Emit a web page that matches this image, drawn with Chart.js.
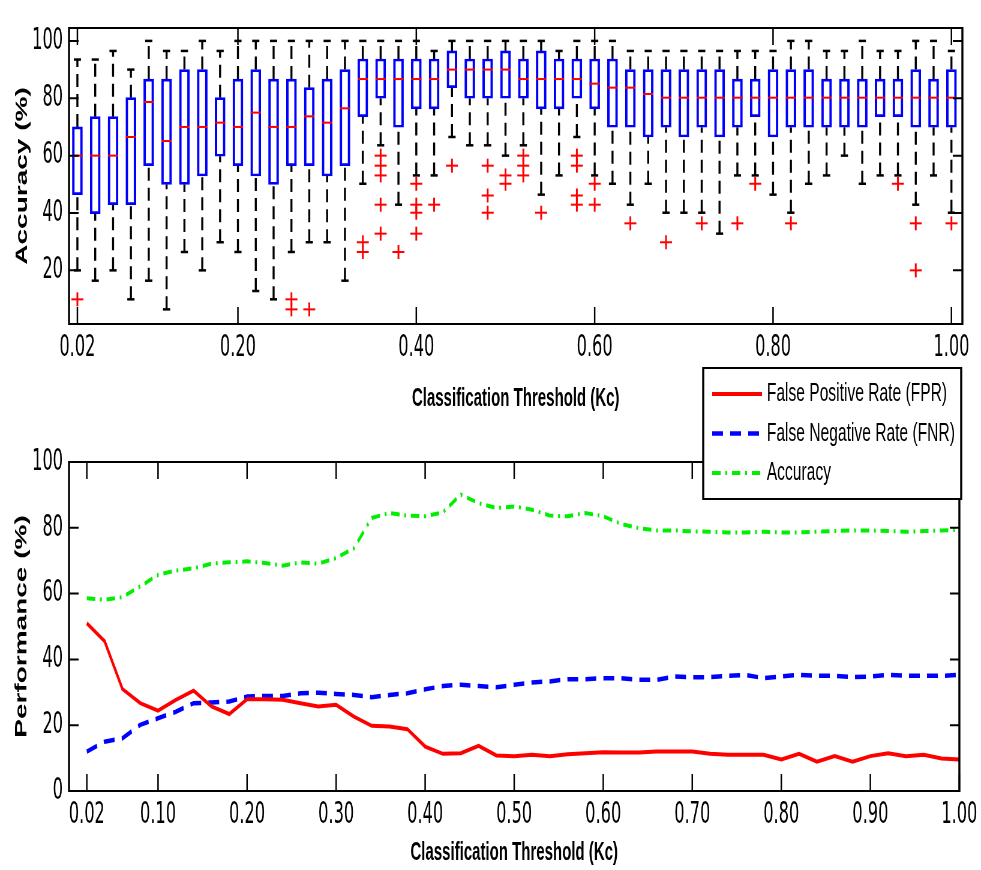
<!DOCTYPE html>
<html>
<head>
<meta charset="utf-8">
<script src="https://cdn.jsdelivr.net/npm/chart.js@4.4.1/dist/chart.umd.min.js"></script>
<style>
  html, body { margin: 0; padding: 0; background: #fff; }
  #wrap { position: relative; width: 981px; height: 870px; overflow: hidden; }
  canvas { position: absolute; left: 0; }
</style>
</head>
<body>
<div id="wrap">
  <!-- both canvases are drawn 1/0.6 wider and shrunk by css, which gives the narrow lettering -->
  <canvas id="boxChart" width="1635" height="420" style="top:0;width:981px;height:420px"></canvas>
  <canvas id="rateChart" width="1635" height="510" style="top:360px;width:981px;height:510px"></canvas>
</div>
<script>
const thresholds = [0.02, 0.04, 0.06, 0.08, 0.10, 0.12, 0.14, 0.16, 0.18, 0.20,
    0.22, 0.24, 0.26, 0.28, 0.30, 0.32, 0.34, 0.36, 0.38, 0.40,
    0.42, 0.44, 0.46, 0.48, 0.50, 0.52, 0.54, 0.56, 0.58, 0.60,
    0.62, 0.64, 0.66, 0.68, 0.70, 0.72, 0.74, 0.76, 0.78, 0.80,
    0.82, 0.84, 0.86, 0.88, 0.90, 0.92, 0.94, 0.96, 0.98, 1.00];

// box plot (accuracy per threshold)
const whiskerHigh = [93.5, 93.5, 96.5, 90, 100, 96.5, 96.5, 100, 96.5, 100,
    100, 100, 100, 100, 100, 100, 100, 100, 100, 100,
    96.5, 100, 100, 100, 100, 100, 100, 96.5, 100, 100,
    100, 96.5, 96.5, 96.5, 96.5, 96.5, 96.5, 96.5, 96.5, 96.5,
    100, 100, 96.5, 96.5, 100, 96.5, 96.5, 100, 100, 96.5];
const quartile3 = [70, 73.6, 73.6, 80.2, 86.7, 86.7, 90, 90, 80.2, 86.7,
    90, 86.7, 86.7, 83.7, 86.7, 90, 93.7, 93.7, 93.7, 93.7,
    93.7, 96.5, 93.7, 93.7, 96.5, 93.7, 96.5, 93.7, 93.7, 93.7,
    93.7, 90, 90, 90, 90, 90, 90, 86.7, 86.7, 90,
    90, 90, 86.7, 86.7, 86.7, 86.7, 86.7, 90, 86.7, 90];
const medians = [60, 60, 60, 66.5, 78.7, 65.1, 70, 70, 71.5, 70,
    75, 70, 70, 73.7, 71.5, 76.5, 86.7, 86.7, 86.7, 86.7,
    86.7, 90, 90, 90, 90, 86.7, 86.7, 86.7, 86.7, 85.1,
    83.7, 83.7, 81.5, 80.2, 80.2, 80.2, 80.2, 80.2, 80.2, 80.2,
    80.2, 80.2, 80.2, 80.2, 80.2, 80.2, 80.2, 80.2, 80.2, 80.2];
const quartile1 = [46.4, 39.8, 42.9, 42.9, 56.5, 50, 50, 52.9, 59.8, 56.5,
    52.9, 50, 56.5, 56.5, 52.9, 56.5, 73.6, 80, 69.9, 76.3,
    76.3, 83.7, 80, 80, 80, 80, 76.3, 76.3, 80, 76.3,
    69.9, 69.9, 66.5, 69.9, 66.5, 69.9, 66.5, 69.9, 73.6, 66.5,
    69.9, 69.9, 69.9, 69.9, 69.9, 73.6, 73.6, 69.9, 69.9, 69.9];
const whiskerLow = [20, 16.4, 20, 9.9, 16.4, 6.4, 26.4, 20, 29.8, 26.4,
    12.8, 9.9, 26.4, 29.8, 29.8, 16.4, 50.2, 63.6, 42.9, 53.1,
    53.1, 66.5, 63.6, 63.6, 60, 63.6, 46.4, 53.1, 66.5, 53.1,
    50.2, 42.9, 50.2, 40.1, 40.1, 40.1, 32.8, 53.1, 53.1, 46.4,
    40.1, 50.2, 53.1, 60, 50.2, 53.1, 53.1, 42.9, 53.1, 40.1];
const outliers = [[0.02, 9.9], [0.26, 9.9], [0.26, 6.4], [0.28, 6.4],
    [0.34, 29.8], [0.34, 26.4],
    [0.36, 60], [0.36, 56.5], [0.36, 53.1], [0.36, 42.9], [0.36, 32.8],
    [0.38, 26.4],
    [0.40, 50.2], [0.40, 42.9], [0.40, 40.1], [0.40, 32.8],
    [0.42, 42.9], [0.44, 56.5],
    [0.48, 56.5], [0.48, 46.1], [0.48, 40.1],
    [0.50, 53.1], [0.50, 50.2],
    [0.52, 60], [0.52, 56.5], [0.52, 53.1],
    [0.54, 40.1],
    [0.58, 60], [0.58, 56.5], [0.58, 46.1], [0.58, 42.9],
    [0.60, 50.2], [0.60, 42.9],
    [0.64, 36.4], [0.68, 29.8], [0.72, 36.4], [0.76, 36.4], [0.78, 50.2],
    [0.82, 36.4], [0.94, 50.2], [0.96, 36.4], [0.96, 20], [1.00, 36.4]];

// performance curves
const fprRate = [51, 45.5, 31, 26.7, 24.4, 27.7, 30.5, 25.7, 23.4, 27.9,
    27.9, 27.7, 26.7, 25.7, 26.2, 22.6, 19.8, 19.6, 18.8, 13.5,
    11.3, 11.5, 13.7, 10.8, 10.6, 11.0, 10.6, 11.2, 11.5, 11.8,
    11.7, 11.7, 12.0, 12.0, 12.0, 11.3, 11.0, 11.0, 11.0, 9.6,
    11.3, 8.9, 10.6, 8.9, 10.6, 11.5, 10.6, 11.0, 9.9, 9.6];
const fnrRate = [12, 15, 16, 20.1, 22.1, 24.1, 26.7, 26.9, 27.2, 28.7,
    28.9, 28.9, 29.7, 29.9, 29.5, 29.2, 28.5, 29.2, 29.7, 30.9,
    31.9, 32.3, 31.9, 31.5, 32.3, 33.0, 33.3, 34.0, 34.0, 34.3,
    34.3, 33.8, 33.8, 34.8, 34.6, 34.6, 35.0, 35.3, 34.3, 34.8,
    35.3, 35.0, 35.0, 34.6, 34.8, 35.3, 35.0, 35.0, 35.0, 35.3];
const accuracyRate = [58.6, 58.1, 58.9, 62.2, 65.7, 67.0, 67.7, 69.1, 69.5, 69.8,
    69.3, 68.5, 69.5, 69.1, 70.8, 73.8, 83.0, 84.5, 83.7, 83.5,
    84.7, 90.1, 87.5, 86.0, 86.5, 85.5, 83.7, 83.5, 84.5, 83.5,
    81.2, 79.9, 79.2, 79.2, 78.9, 78.8, 78.6, 78.6, 78.8, 78.6,
    78.6, 78.8, 79.0, 79.2, 79.2, 79.0, 78.8, 79.0, 79.2, 79.4];

const boxXTicks = [0.02, 0.2, 0.4, 0.6, 0.8, 1.0];
const rateXTicks = [0.02, 0.1, 0.2, 0.3, 0.4, 0.5, 0.6, 0.7, 0.8, 0.9, 1.0];
const boxYTicks = [20, 40, 60, 80, 100];
const rateYTicks = [0, 20, 40, 60, 80, 100];

const FAMILY = "'Liberation Sans', Arial, sans-serif";
const tickFont = { family: "'Liberation Sans Narrow', 'Arial Narrow', 'DejaVu Sans Condensed', 'Liberation Sans', sans-serif", size: 30 };
Chart.defaults.color = '#000';

// matlab style frame with inward ticks on all four sides
const frameTicks = {
    id: 'frameTicks',
    afterDatasetsDraw(chart) {
        const { ctx, chartArea: a, scales } = chart;
        ctx.save();
        ctx.strokeStyle = '#000';
        ctx.lineWidth = 2.5;
        ctx.beginPath();
        scales.x.ticks.forEach(t => {
            const px = scales.x.getPixelForValue(t.value);
            ctx.moveTo(px, a.bottom); ctx.lineTo(px, a.bottom - 17);
            ctx.moveTo(px, a.top); ctx.lineTo(px, a.top + 17);
        });
        ctx.stroke();
        ctx.lineWidth = 2;
        ctx.beginPath();
        scales.y.ticks.forEach(t => {
            const py = scales.y.getPixelForValue(t.value);
            ctx.moveTo(a.left, py); ctx.lineTo(a.left + 16, py);
            ctx.moveTo(a.right, py); ctx.lineTo(a.right - 16, py);
        });
        ctx.moveTo(a.left, a.top); ctx.lineTo(a.right, a.top);
        ctx.moveTo(a.left, a.bottom); ctx.lineTo(a.right, a.bottom);
        ctx.stroke();
        ctx.lineWidth = 3.4;
        ctx.beginPath();
        ctx.moveTo(a.left, a.top - 1); ctx.lineTo(a.left, a.bottom + 1);
        ctx.moveTo(a.right, a.top - 1); ctx.lineTo(a.right, a.bottom + 1);
        ctx.stroke();
        ctx.restore();
    }
};

// legend box that sits across the top edge of the lower plot
const boxLegend = {
    id: 'boxLegend',
    afterDraw(chart, args, opts) {
        const { ctx, chartArea: a } = chart;
        const right = a.right + 3;
        ctx.save();
        ctx.fillStyle = '#fff';
        ctx.fillRect(opts.left, opts.top, right - opts.left, opts.bottom - opts.top);
        ctx.strokeStyle = '#000';
        ctx.lineWidth = 2;
        ctx.beginPath();
        ctx.moveTo(opts.left, opts.top); ctx.lineTo(right, opts.top);
        ctx.moveTo(opts.left, opts.bottom); ctx.lineTo(right, opts.bottom);
        ctx.stroke();
        ctx.lineWidth = 3.4;
        ctx.beginPath();
        ctx.moveTo(opts.left, opts.top - 1); ctx.lineTo(opts.left, opts.bottom + 1);
        ctx.moveTo(right, opts.top - 1); ctx.lineTo(right, opts.bottom + 1);
        ctx.stroke();

        ctx.font = `26px ${FAMILY}`;
        ctx.textBaseline = 'middle';
        chart.data.datasets.forEach((ds, i) => {
            const y = opts.top + 26 + i * 39.5;
            ctx.strokeStyle = ds.borderColor;
            ctx.lineWidth = ds.borderWidth;
            ctx.setLineDash(ds.borderDash || []);
            ctx.beginPath();
            ctx.moveTo(opts.sampleStart, y); ctx.lineTo(opts.sampleEnd, y);
            ctx.stroke();
            ctx.setLineDash([]);
            ctx.fillStyle = '#000';
            ctx.fillText(ds.label, opts.textX, y);
        });
        ctx.restore();
    }
};

// whiskers: q3 -> upper, lower -> q1, gaps between them
const whiskerPoints = [];
thresholds.forEach((t, i) => {
    whiskerPoints.push({ x: t, y: quartile3[i] }, { x: t, y: whiskerHigh[i] }, { x: t, y: null });
    whiskerPoints.push({ x: t, y: whiskerLow[i] }, { x: t, y: quartile1[i] }, { x: t, y: null });
});
const outlierPoints = outliers.map(([t, v]) => ({ x: t, y: v }));

new Chart(document.getElementById('boxChart'), {
    type: 'bar',
    data: {
        datasets: [
            {
                type: 'scatter', label: 'outliers h', order: 0,
                data: outlierPoints,
                pointStyle: 'line', pointRadius: 10, pointHoverRadius: 10,
                pointBorderColor: '#ff0000', pointBorderWidth: 2
            },
            {
                type: 'scatter', label: 'outliers v', order: 0,
                data: outlierPoints,
                pointStyle: 'line', pointRotation: 90, pointRadius: 7, pointHoverRadius: 7,
                pointBorderColor: '#ff0000', pointBorderWidth: 3
            },
            {
                type: 'scatter', label: 'median', order: 1,
                data: thresholds.map((t, i) => ({ x: t, y: medians[i] })),
                pointStyle: 'line', pointRadius: 8.5, pointHoverRadius: 8.5,
                pointBorderColor: '#ff0000', pointBorderWidth: 2
            },
            {
                label: 'box', order: 2,
                data: thresholds.map((t, i) => ({ x: t, y: [quartile1[i], quartile3[i]] })),
                backgroundColor: 'rgba(0,0,0,0)',
                borderColor: '#0000ff',
                borderWidth: { left: 3.4, right: 3.4, top: 2, bottom: 2 },
                borderSkipped: false,
                barThickness: 17
            },
            {
                type: 'scatter', label: 'caps', order: 3,
                data: thresholds.flatMap((t, i) => [{ x: t, y: whiskerHigh[i] }, { x: t, y: whiskerLow[i] }]),
                pointStyle: 'line', pointRadius: 6, pointHoverRadius: 6,
                pointBorderColor: '#000', pointBorderWidth: 2.5
            },
            {
                type: 'line', label: 'whiskers', order: 4,
                data: whiskerPoints,
                borderColor: '#000', borderWidth: 3.4, borderDash: [13, 7],
                pointRadius: 0, spanGaps: false, tension: 0
            }
        ]
    },
    options: {
        responsive: false,
        devicePixelRatio: 1,
        animation: false,
        events: [],
        layout: { padding: { left: 0, right: 31, top: 8, bottom: 0 } },
        plugins: { legend: { display: false }, tooltip: { enabled: false } },
        scales: {
            x: {
                type: 'linear', offset: false, min: 0.0106, max: 1.0123,
                afterBuildTicks: s => { s.ticks = boxXTicks.map(v => ({ value: v })); },
                afterFit: s => { s.height = 96; },
                grid: { display: false, drawTicks: false },
                border: { display: false },
                ticks: { padding: 6, font: tickFont, maxRotation: 0, autoSkip: false, callback: v => v.toFixed(2) },
                title: { display: true, text: 'Classification Threshold (Kc)', font: { family: FAMILY, size: 25, weight: 'bold' }, padding: { top: 0, bottom: 6 } }
            },
            y: {
                min: 1.3, max: 104.5,
                afterBuildTicks: s => { s.ticks = boxYTicks.map(v => ({ value: v })); },
                afterFit: s => { s.width = 115; },
                grid: { display: false, drawTicks: false },
                border: { display: false },
                ticks: { padding: 10, font: tickFont },
                title: { display: true, text: 'Accuracy (%)', font: { family: FAMILY, size: 28, weight: 'bold' }, padding: { top: 20, bottom: 0 } }
            }
        }
    },
    plugins: [frameTicks]
});

new Chart(document.getElementById('rateChart'), {
    type: 'line',
    data: {
        datasets: [
            {
                label: 'False Positive Rate (FPR)',
                data: thresholds.map((t, i) => ({ x: t, y: fprRate[i] })),
                borderColor: '#ff0000', borderWidth: 4, pointRadius: 0, tension: 0
            },
            {
                label: 'False Negative Rate (FNR)',
                data: thresholds.map((t, i) => ({ x: t, y: fnrRate[i] })),
                borderColor: '#0000ff', borderWidth: 4.5, borderDash: [18, 12], pointRadius: 0, tension: 0
            },
            {
                label: 'Accuracy',
                data: thresholds.map((t, i) => ({ x: t, y: accuracyRate[i] })),
                borderColor: '#00ee00', borderWidth: 4, borderDash: [14, 8, 3, 8], pointRadius: 0, tension: 0
            }
        ]
    },
    options: {
        responsive: false,
        devicePixelRatio: 1,
        animation: false,
        events: [],
        layout: { padding: { left: 0, right: 31, top: 102, bottom: 0 } },
        plugins: {
            legend: { display: false },
            tooltip: { enabled: false },
            boxLegend: { left: 1172, top: 8, bottom: 139, sampleStart: 1187, sampleEnd: 1270, textX: 1278 }
        },
        scales: {
            x: {
                type: 'linear', min: 0, max: 1.0,
                afterBuildTicks: s => { s.ticks = rateXTicks.map(v => ({ value: v })); },
                afterFit: s => { s.height = 79; },
                grid: { display: false, drawTicks: false },
                border: { display: false },
                ticks: { padding: 6, font: tickFont, maxRotation: 0, autoSkip: false, callback: v => v.toFixed(2) },
                title: { display: true, text: 'Classification Threshold (Kc)', font: { family: FAMILY, size: 25, weight: 'bold' }, padding: { top: 0, bottom: 2 } }
            },
            y: {
                min: 0, max: 100,
                afterBuildTicks: s => { s.ticks = rateYTicks.map(v => ({ value: v })); },
                afterFit: s => { s.width = 115; },
                grid: { display: false, drawTicks: false },
                border: { display: false },
                ticks: { padding: 10, font: tickFont },
                title: { display: true, text: 'Performance (%)', font: { family: FAMILY, size: 28, weight: 'bold' }, padding: { top: 19, bottom: 0 } }
            }
        }
    },
    plugins: [frameTicks, boxLegend]
});
</script>
</body>
</html>
